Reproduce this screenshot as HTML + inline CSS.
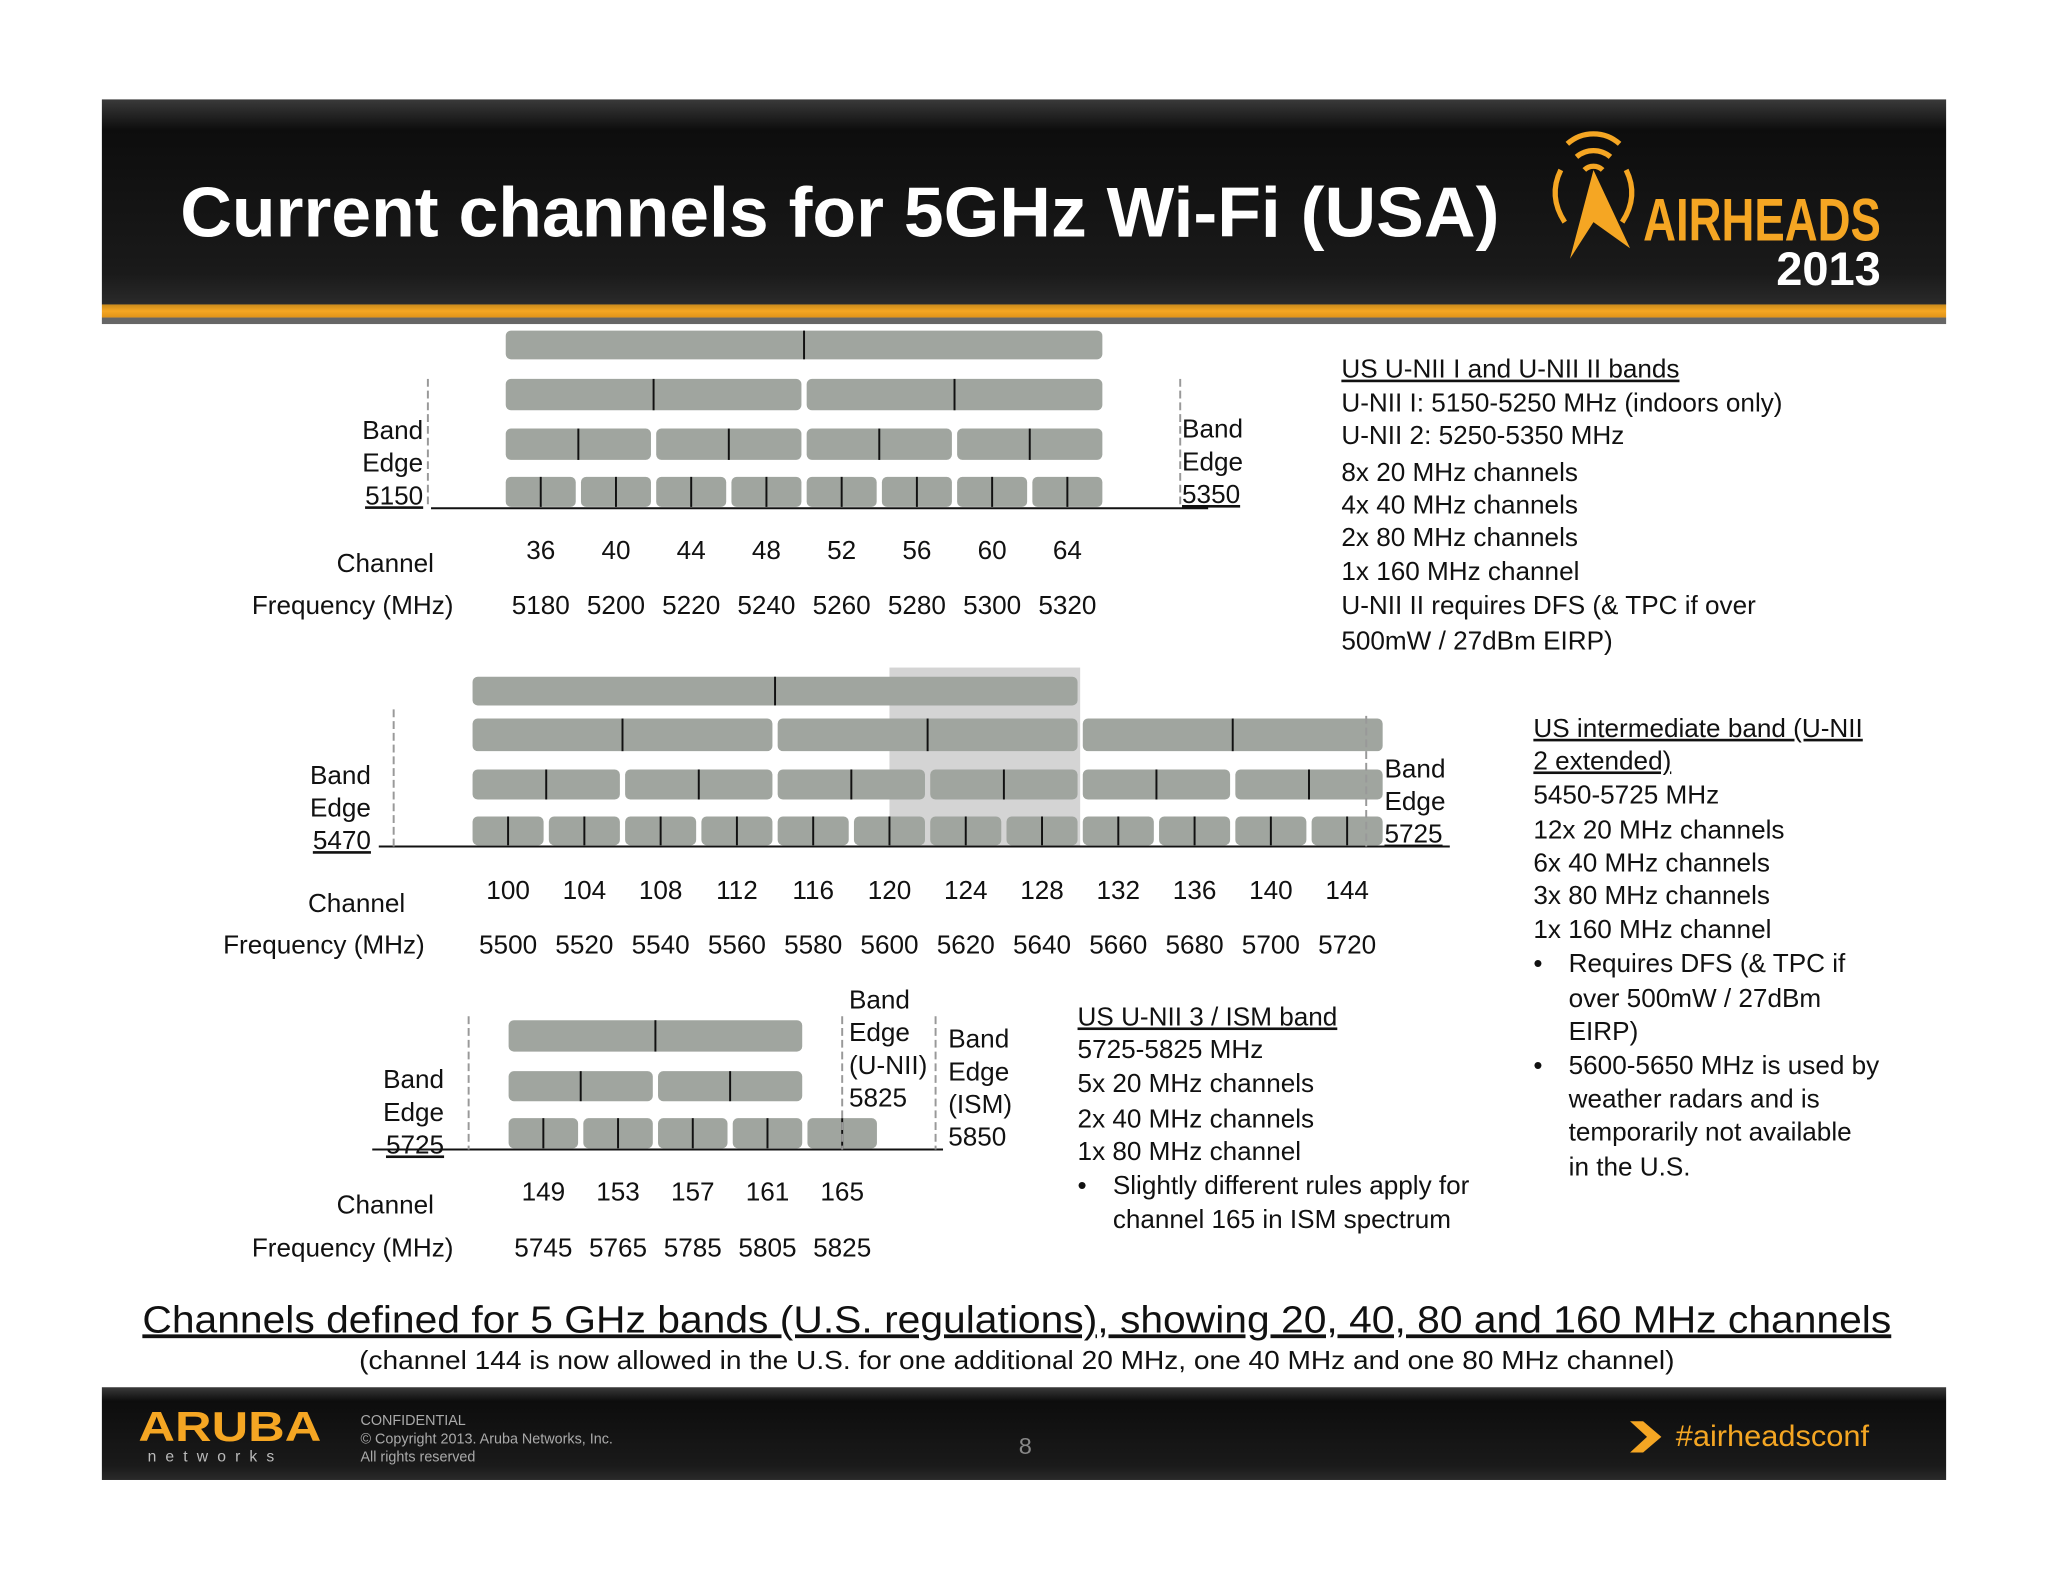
<!DOCTYPE html>
<html><head><meta charset="utf-8"><style>
html,body{margin:0;padding:0;background:#fff;}
svg{display:block;}
text{font-family:"Liberation Sans",sans-serif;}
</style></head><body>
<svg id="s" width="2048" height="1582" viewBox="0 0 1568 1211" xmlns="http://www.w3.org/2000/svg">
<defs>
<linearGradient id="hdr" x1="0" y1="0" x2="0" y2="1"><stop offset="0" stop-color="#3a3a3a"/><stop offset="0.15" stop-color="#0d0d0d"/><stop offset="0.85" stop-color="#1a1a1a"/><stop offset="1" stop-color="#2a2a2a"/></linearGradient>
<linearGradient id="org" x1="0" y1="0" x2="0" y2="1"><stop offset="0" stop-color="#c98a1a"/><stop offset="0.5" stop-color="#f5a623"/><stop offset="1" stop-color="#e09318"/></linearGradient>
</defs>
<g>
<rect x="78" y="76" width="1412" height="157" fill="url(#hdr)"/>
<rect x="78" y="233" width="1412" height="10" fill="url(#org)"/>
<rect x="78" y="243" width="1412" height="5" fill="#666"/>
<text x="138" y="181" font-size="54" font-weight="bold" fill="#fff" textLength="1010" lengthAdjust="spacingAndGlyphs">Current channels for 5GHz Wi-Fi (USA)</text>
<g fill="none" stroke="#f5a623" stroke-width="4">
<path d="M1200 110 A30 30 0 0 1 1240 110"/><path d="M1207 120 A20 20 0 0 1 1233 120"/><path d="M1213 130 A10 10 0 0 1 1227 130"/>
<path d="M1195 130 Q1185 150 1198 170"/><path d="M1245 130 Q1255 150 1242 170"/>
<polygon points="1220,130 1248,190 1220,170 1202,198" fill="#f5a623" stroke="none"/>
</g>
<text x="1258" y="184" font-size="46" font-weight="bold" fill="#f5a623" textLength="182" lengthAdjust="spacingAndGlyphs">AIRHEADS</text>
<text x="1440" y="218" font-size="36" font-weight="bold" fill="#fff" text-anchor="end">2013</text>
</g>
<g id="charts"></g>
<g font-size="20" fill="#111">
<text x="1027" y="289" text-decoration="underline">US U-NII I and U-NII II bands</text>
<text x="1027" y="315">U-NII I: 5150-5250 MHz (indoors only)</text>
<text x="1027" y="340">U-NII 2: 5250-5350 MHz</text>
<text x="1027" y="368">8x 20 MHz channels</text>
<text x="1027" y="393">4x 40 MHz channels</text>
<text x="1027" y="418">2x 80 MHz channels</text>
<text x="1027" y="444">1x 160 MHz channel</text>
<text x="1027" y="470">U-NII II requires DFS (&amp; TPC if over</text>
<text x="1027" y="497">500mW / 27dBm EIRP)</text>
</g>
<g font-size="20" fill="#111">
<text x="1174" y="564" text-decoration="underline">US intermediate band (U-NII</text>
<text x="1174" y="589" text-decoration="underline">2 extended)</text>
<text x="1174" y="615">5450-5725 MHz</text>
<text x="1174" y="642">12x 20 MHz channels</text>
<text x="1174" y="667">6x 40 MHz channels</text>
<text x="1174" y="692">3x 80 MHz channels</text>
<text x="1174" y="718">1x 160 MHz channel</text>
<text x="1174" y="744">•</text><text x="1201" y="744">Requires DFS (&amp; TPC if</text>
<text x="1201" y="771">over 500mW / 27dBm</text>
<text x="1201" y="796">EIRP)</text>
<text x="1174" y="822">•</text><text x="1201" y="822">5600-5650 MHz is used by</text>
<text x="1201" y="848">weather radars and is</text>
<text x="1201" y="873">temporarily not available</text>
<text x="1201" y="900">in the U.S.</text>
</g>
<g font-size="20" fill="#111">
<text x="825" y="785" text-decoration="underline">US U-NII 3 / ISM band</text>
<text x="825" y="810">5725-5825 MHz</text>
<text x="825" y="836">5x 20 MHz channels</text>
<text x="825" y="863">2x 40 MHz channels</text>
<text x="825" y="888">1x 80 MHz channel</text>
<text x="825" y="914">•</text><text x="852" y="914">Slightly different rules apply for</text>
<text x="852" y="940">channel 165 in ISM  spectrum</text>
</g>
<text x="109" y="1020" font-size="29" textLength="1339" lengthAdjust="spacingAndGlyphs" text-decoration="underline" fill="#111">Channels defined for 5 GHz  bands (U.S. regulations), showing 20, 40, 80 and 160 MHz channels</text>
<text x="275" y="1048" font-size="20" textLength="1007" lengthAdjust="spacingAndGlyphs" fill="#111">(channel 144 is now allowed in the U.S. for one additional 20 MHz, one 40 MHz and one 80 MHz channel)</text>
<g>
<rect x="78" y="1062" width="1412" height="71" fill="url(#hdr)"/>
<text x="106" y="1103" font-size="32" font-weight="bold" fill="#f5a623" textLength="140" lengthAdjust="spacingAndGlyphs">ARUBA</text>
<text x="113" y="1119" font-size="12" fill="#bbb" letter-spacing="7">networks</text>
<text x="276" y="1091" font-size="11" fill="#aaa">CONFIDENTIAL</text>
<text x="276" y="1105" font-size="11" fill="#aaa">© Copyright 2013. Aruba Networks, Inc.</text>
<text x="276" y="1119" font-size="11" fill="#aaa">All rights reserved</text>
<text x="785" y="1113" font-size="18" fill="#888" text-anchor="middle">8</text>
<polygon points="1248,1088 1258,1088 1272,1100 1258,1112 1248,1112 1261,1100" fill="#f5a623"/>
<text x="1283" y="1107" font-size="23" fill="#f5a623" textLength="148" lengthAdjust="spacingAndGlyphs">#airheadsconf</text>
</g>
</svg>
<script>
// Band 1 (U-NII 1/2)
const b1Channels = [36,40,44,48,52,56,60,64];
const b1Freqs = [5180,5200,5220,5240,5260,5280,5300,5320];
const b1c40 = [5190,5230,5270,5310];
const b1c80 = [5210,5290];
const b1c160 = [5250];
const b1Edges = [5150,5350];
// Band 2 (U-NII 2e)
const b2Channels = [100,104,108,112,116,120,124,128,132,136,140,144];
const b2Freqs = [5500,5520,5540,5560,5580,5600,5620,5640,5660,5680,5700,5720];
const b2c40 = [5510,5550,5590,5630,5670,5710];
const b2c80 = [5530,5610,5690];
const b2c160 = [5570];
const b2Edges = [5470,5725];
const b2Radar = [5600,5650];
// Band 3 (U-NII 3 / ISM)
const b3Channels = [149,153,157,161,165];
const b3Freqs = [5745,5765,5785,5805,5825];
const b3c40 = [5755,5795];
const b3c80 = [5775];
const b3Edges = [5725,5825,5850];

const NS='http://www.w3.org/2000/svg';
const root=document.getElementById('charts');
function mk(tag,attrs,parent){const e=document.createElementNS(NS,tag);for(const k in attrs)e.setAttribute(k,attrs[k]);(parent||root).appendChild(e);return e;}

function drawBand(cfg){
  const g=mk('g',{});
  
  
  const x=f=>cfg.x0+(f-cfg.f0)*cfg.k;
  if(cfg.radar){
    const r=mk('rect',{x:x(cfg.radar[0]),y:cfg.radarTop,width:x(cfg.radar[1])-x(cfg.radar[0]),height:cfg.axisY-cfg.radarTop,fill:'#d4d4d4'},g);
    
    
  }
  cfg.rows.forEach(row=>{
    row.c.forEach(cf=>{
      const w=row.bw*cfg.k-4;
      const b=mk('rect',{x:x(cf)-w/2,y:row.y,width:w,height:row.h,rx:4,fill:'#a0a59f'},g);
      
      
      const t=mk('line',{x1:x(cf),x2:x(cf),y1:row.y,y2:row.y+row.h,stroke:'#111','stroke-width':1.5},g);
      
      
    });
  });
  const ax=mk('line',{x1:cfg.axisX1,x2:cfg.axisX2,y1:cfg.axisY,y2:cfg.axisY,stroke:'#111','stroke-width':1.5},g);
  
  
  cfg.edges.forEach((e,i)=>{
    const l=mk('line',{x1:x(e),x2:x(e),y1:cfg.edgeTop[i],y2:cfg.axisY,stroke:'#999','stroke-width':1.5,'stroke-dasharray':'6,3'},g);
    
    
  });
  cfg.channels.forEach((c,i)=>{
    const t=mk('text',{x:x(cfg.freqs[i]),y:cfg.chY,'font-size':20,'text-anchor':'middle',fill:'#111'},g);
    t.textContent=c;
    
    
    const f=mk('text',{x:x(cfg.freqs[i]),y:cfg.frY,'font-size':20,'text-anchor':'middle',fill:'#111'},g);
    f.textContent=cfg.freqs[i];
    
    
  });
  const cl=mk('text',{x:cfg.chLabelX,y:cfg.chY+10,'font-size':20,'text-anchor':'middle',fill:'#111'},g);
  cl.textContent='Channel';
  
  
  const fl=mk('text',{x:cfg.labelX,y:cfg.frY,'font-size':20,'text-anchor':'middle',fill:'#111'},g);
  fl.textContent='Frequency (MHz)';
  
  
  cfg.edgeLabels.forEach(el=>{
    el.lines.forEach((s,j)=>{
      const t=mk('text',{x:el.x,y:el.y+j*25,'font-size':20,'text-anchor':el.anchor,fill:'#111'},g);
      t.textContent=s;
      if(j==el.lines.length-1 && el.u) t.setAttribute('text-decoration','underline');
      
      
    });
  });
}

drawBand({name:'band-unii-1-2',x0:414,f0:5180,k:2.88,axisY:389,axisX1:330,axisX2:925,
  rows:[{bw:160,c:b1c160,y:253,h:22},{bw:80,c:b1c80,y:290,h:24},{bw:40,c:b1c40,y:328,h:24},{bw:20,c:b1Freqs,y:365,h:23}],
  edges:b1Edges,edgeTop:[290,290],channels:b1Channels,freqs:b1Freqs,chY:428,frY:470,labelX:270,chLabelX:295,
  edgeLabels:[{x:324,y:336,anchor:'end',lines:['Band','Edge','5150'],u:true},{x:905,y:335,anchor:'start',lines:['Band','Edge','5350'],u:true}]});

drawBand({name:'band-unii-2-extended',x0:389,f0:5500,k:2.92,axisY:648,axisX1:290,axisX2:1110,radar:b2Radar,radarTop:511,
  rows:[{bw:160,c:b2c160,y:518,h:22},{bw:80,c:b2c80,y:550,h:25},{bw:40,c:b2c40,y:589,h:23},{bw:20,c:b2Freqs,y:625,h:22}],
  edges:b2Edges,edgeTop:[543,548],channels:b2Channels,freqs:b2Freqs,chY:688,frY:730,labelX:248,chLabelX:273,
  edgeLabels:[{x:284,y:600,anchor:'end',lines:['Band','Edge','5470'],u:true},{x:1060,y:595,anchor:'start',lines:['Band','Edge','5725'],u:true}]});

drawBand({name:'band-unii-3-ism',x0:416,f0:5745,k:2.86,axisY:880,axisX1:285,axisX2:722,
  rows:[{bw:80,c:b3c80,y:781,h:24},{bw:40,c:b3c40,y:820,h:23},{bw:20,c:b3Freqs,y:856,h:23}],
  edges:b3Edges,edgeTop:[778,778,778],channels:b3Channels,freqs:b3Freqs,chY:919,frY:962,labelX:270,chLabelX:295,
  edgeLabels:[{x:340,y:833,anchor:'end',lines:['Band','Edge','5725'],u:true},
    {x:650,y:772,anchor:'start',lines:['Band','Edge','(U-NII)','5825']},
    {x:726,y:802,anchor:'start',lines:['Band','Edge','(ISM)','5850']}]});
</script>
</body></html>
